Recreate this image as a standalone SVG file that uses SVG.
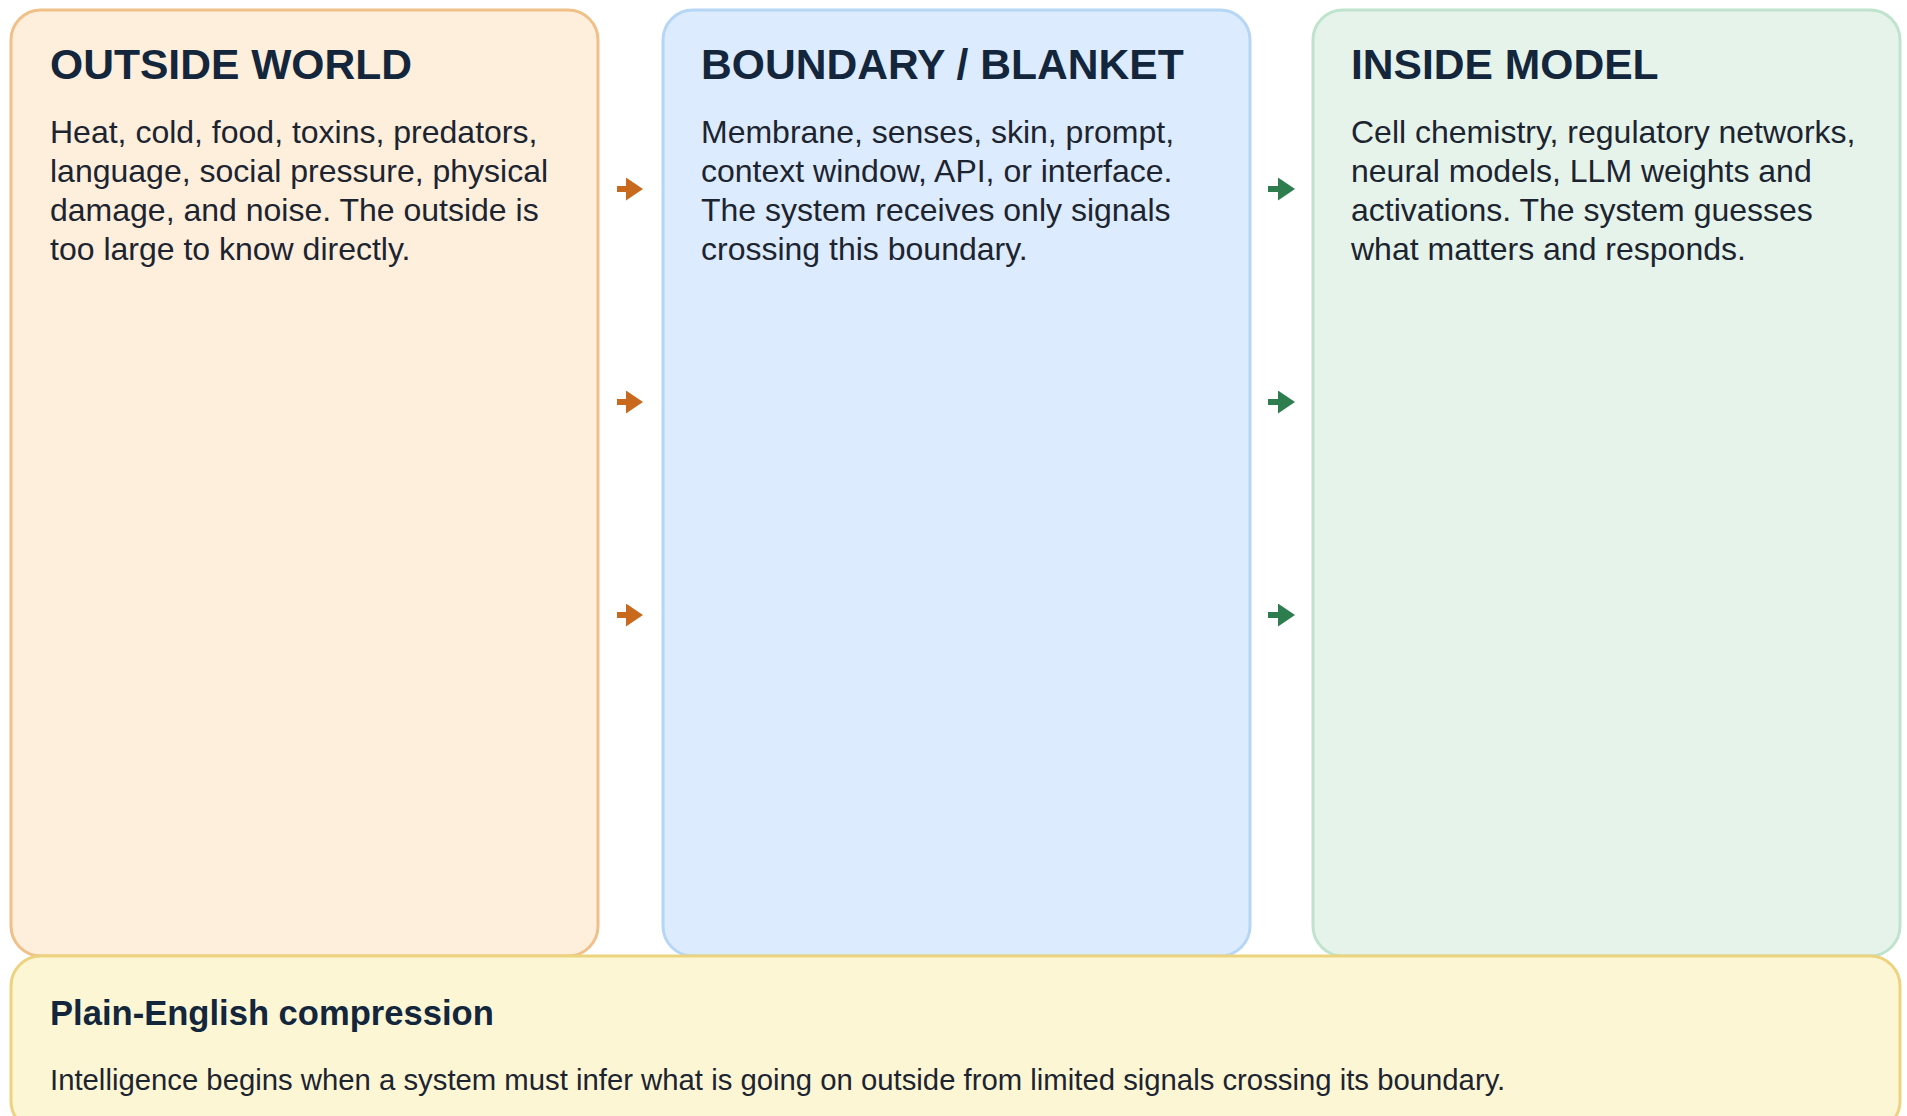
<svg xmlns="http://www.w3.org/2000/svg" width="1907" height="1116" viewBox="0 0 1907 1116">
<defs>
<style>
.title{font-family:"Liberation Sans",Arial,sans-serif;font-weight:bold;font-size:42.6px;fill:#13263b}
.body{font-family:"Liberation Sans",Arial,sans-serif;font-size:32px;fill:#1c2430}
.btitle{font-family:"Liberation Sans",Arial,sans-serif;font-weight:bold;font-size:34.6px;fill:#13263b}
.bbody{font-family:"Liberation Sans",Arial,sans-serif;font-size:29.3px;fill:#1c2430}
.arr-o{stroke:#c8691e;stroke-width:6;fill:none}
.arr-g{stroke:#2e7d4f;stroke-width:6;fill:none}
</style>
<marker id="mo" viewBox="0 0 17 23" refX="4" refY="11.5" markerWidth="17" markerHeight="23" orient="auto" markerUnits="userSpaceOnUse"><path d="M0,0 L17,11.5 L0,23 z" fill="#c8691e"/></marker>
<marker id="mg" viewBox="0 0 17 23" refX="4" refY="11.5" markerWidth="17" markerHeight="23" orient="auto" markerUnits="userSpaceOnUse"><path d="M0,0 L17,11.5 L0,23 z" fill="#2e7d4f"/></marker>
</defs>
<rect width="1907" height="1116" fill="#ffffff"/>
<g id="outside">
<rect x="11" y="10" width="587" height="946" rx="30" fill="#feeedc" stroke="#f0c088" stroke-width="3"/>
<text class="title" x="50" y="79">OUTSIDE WORLD</text>
<text class="body"><tspan x="50" y="143">Heat, cold, food, toxins, predators,</tspan><tspan x="50" y="182">language, social pressure, physical</tspan><tspan x="50" y="221">damage, and noise. The outside is</tspan><tspan x="50" y="260">too large to know directly.</tspan></text>
</g>
<g id="boundary">
<rect x="663" y="10" width="587" height="946" rx="30" fill="#dcebfd" stroke="#b6d6f6" stroke-width="3"/>
<text class="title" x="701" y="79">BOUNDARY / BLANKET</text>
<text class="body"><tspan x="701" y="143">Membrane, senses, skin, prompt,</tspan><tspan x="701" y="182">context window, API, or interface.</tspan><tspan x="701" y="221">The system receives only signals</tspan><tspan x="701" y="260">crossing this boundary.</tspan></text>
</g>
<g id="inside">
<rect x="1313" y="10" width="587" height="946" rx="30" fill="#e5f3ea" stroke="#bfe3cc" stroke-width="3"/>
<text class="title" x="1351" y="79">INSIDE MODEL</text>
<text class="body"><tspan x="1351" y="143">Cell chemistry, regulatory networks,</tspan><tspan x="1351" y="182">neural models, LLM weights and</tspan><tspan x="1351" y="221">activations. The system guesses</tspan><tspan x="1351" y="260">what matters and responds.</tspan></text>
</g>
<g id="summary">
<rect x="11" y="956" width="1889" height="175" rx="30" fill="#fdf6d5" stroke="#ecd37f" stroke-width="3"/>
<text class="btitle" x="50" y="1025">Plain-English compression</text>
<text class="bbody" x="50" y="1090">Intelligence begins when a system must infer what is going on outside from limited signals crossing its boundary.</text>
</g>
<g id="connectors">
<line class="arr-o" x1="617" y1="189" x2="630" y2="189" marker-end="url(#mo)"/>
<line class="arr-o" x1="617" y1="402" x2="630" y2="402" marker-end="url(#mo)"/>
<line class="arr-o" x1="617" y1="615" x2="630" y2="615" marker-end="url(#mo)"/>
<line class="arr-g" x1="1268" y1="189" x2="1282" y2="189" marker-end="url(#mg)"/>
<line class="arr-g" x1="1268" y1="402" x2="1282" y2="402" marker-end="url(#mg)"/>
<line class="arr-g" x1="1268" y1="615" x2="1282" y2="615" marker-end="url(#mg)"/>
</g>
</svg>
